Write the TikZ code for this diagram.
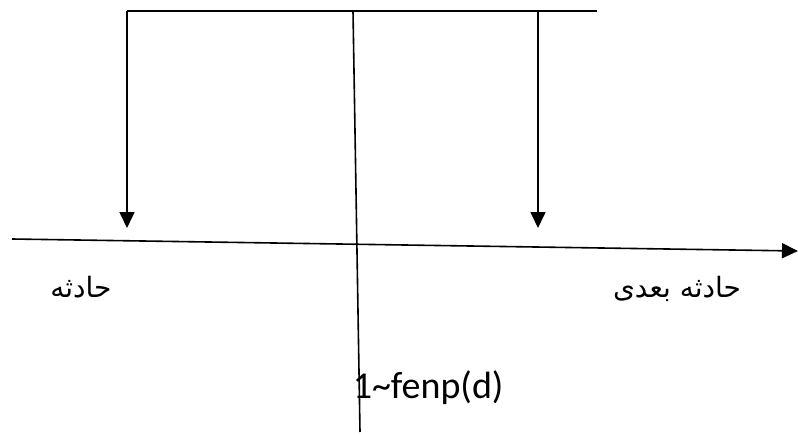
\documentclass[tikz,border=0pt]{standalone}
\usepackage{fontspec}
\setmainfont{Carlito}
\newfontfamily\arabicfont[Script=Arabic]{DejaVu Sans}
\TeXXeTstate=1
\usetikzlibrary{arrows.meta}

\begin{document}
\begin{tikzpicture}[
  x=1pt, y=-1pt,
  >={Triangle[length=16pt, width=15pt]},
  every path/.style={line width=1.6pt},
  event label/.style={font=\arabicfont\fontsize{28}{32}\selectfont, inner sep=0pt},
  rate label/.style={font=\fontsize{38}{44}\selectfont, inner sep=0pt, anchor=base west},
]
  \useasboundingbox (0,0) rectangle (798,434);

  % bracket on top
  \coordinate (topL) at (127,11);
  \coordinate (topM) at (353,11);
  \coordinate (topR) at (538,11);
  \coordinate (topEnd) at (597,11);
  \coordinate (hitL) at (127,228);
  \coordinate (hitR) at (538,228);
  \coordinate (midEnd) at (360,432);

  % time axis
  \coordinate (axisStart) at (12,239);
  \coordinate (axisEnd) at (798,251);

  \draw (topL) -- (topEnd);
  \draw[->] (topL) -- (hitL);
  \draw[->] (topR) -- (hitR);
  \draw (topM) -- (midEnd);
  \draw[->] (axisStart) -- (axisEnd);

  \node[event label] (event) at (81,287) {\beginR حادثه\endR};
  \node[event label] (nextEvent) at (677,289) {\beginR حادثه بعدی\endR};
  \node[rate label] (rate) at (352,398) {1\textasciitilde fenp(d)};
\end{tikzpicture}
\end{document}
